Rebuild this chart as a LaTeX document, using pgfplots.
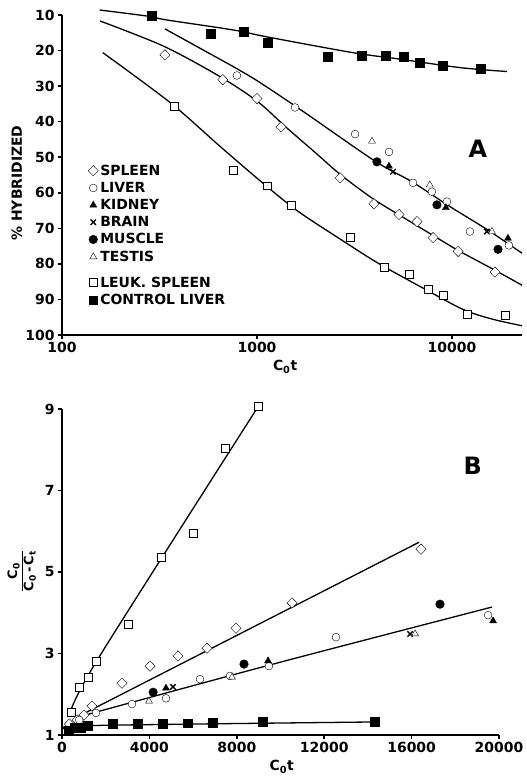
\documentclass[border=0pt]{standalone}
\usepackage{fontspec}
\setmainfont{DejaVu Sans}
\usepackage{pgfplots}
\pgfplotsset{compat=1.18}

\pgfplotsset{
  fig/.style={
    scale only axis,
    axis line style={line width=2bp},
    tick style={line width=1.5bp, black},
    tick align=outside,
    major tick length=4bp,
    minor tick length=0pt,
    clip=false,
    /pgf/number format/assume math mode=true,
    ticklabel style={font=\bfseries\fontsize{14}{14}\selectfont},
    label style={font=\bfseries\fontsize{14}{14}\selectfont},
  },
  ln/.style={black, line width=1.3bp, smooth, no marks, forget plot},
  mk/.style={only marks, black, mark options={line width=1.4bp}},
  mspleen/.style={mk, mark=diamond*, mark size=5.2bp, mark options={fill=white, xscale=1.3}},
  mliver/.style={mk, mark=*, mark size=3.9bp, mark options={fill=white}},
  mkidney/.style={mk, mark=triangle*, mark size=4bp, mark options={fill=black}},
  mbrain/.style={mk, mark=x, mark size=3.8bp},
  mmuscle/.style={mk, mark=*, mark size=4.3bp, mark options={fill=black}},
  mtestis/.style={mk, mark=triangle*, mark size=4bp, mark options={fill=white}},
  mleuk/.style={mk, mark=square*, mark size=3.9bp, mark options={fill=white}},
  mctrl/.style={mk, mark=square*, mark size=4.4bp, mark options={fill=black}},
}

\begin{document}
\begin{tikzpicture}
\path[use as bounding box] (0,0) rectangle (527bp,777bp);

% ---- panel A: % hybridized vs Cot (log)
\begin{axis}[fig,
    at={(62bp,442bp)}, anchor=south west,
    width=460bp, height=320bp,
    xmode=log, xmin=100, xmax=22860,
    ymin=10, ymax=100, y dir=reverse,
    axis x line*=bottom, axis y line*=left,
    xtick={100,1000,10000}, xticklabels={100,1000,10000},
    ytick={10,20,...,100},
    xlabel={C\textsubscript{0}t},
    ylabel={\% HYBRIDIZED},
    xlabel style={at={(axis description cs:0.485,-0.1)}, anchor=center},
    ylabel style={at={(axis description cs:-0.098,0.475)}, anchor=center},
    legend style={at={(axis description cs:0.05,0.545)}, anchor=north west,
      draw=none, fill=none, font=\bfseries\fontsize{14}{14}\selectfont,
      row sep=1.5bp},
    legend cell align=left,
]
% curves
\addplot[ln] coordinates {(156,8.6) (273,10.3) (345,11.4) (753,14.2) (1137,16.2)
  (3105,20.6) (5224,22.3) (11000,24.8) (19140,25.9)};
\addplot[ln] coordinates {(337,13.9) (574,20.9) (800,25.3) (1036,29.0) (1722,37.1) (4030,51.1)
  (6232,56.9) (9772,63.9) (15100,70.3) (22860,77.0)};
\addplot[ln] coordinates {(157,11.7) (330,18.7) (631,27.0) (1000,34.2) (1426,41.8)
  (2000,48.8) (2667,54.8) (3890,61.5) (5346,66.2) (7998,72.0) (10740,76.2) (16640,81.8) (22860,86.0)};
\addplot[ln] coordinates {(162,20.6) (358,34.6) (645,46.9) (1036,56.6) (1603,65.0)
  (2667,73.0) (4178,79.8) (7100,86.8) (11380,92.8) (16000,95.5) (22860,97.4)};

% data
\addplot[mspleen] coordinates {(337,21.2) (668,28.2) (1000,33.5) (1327,41.5) (2667,55.8)
  (3980,63.1) (5350,66.1) (6620,68.1) (8000,72.6) (10750,76.5) (16600,82.3)};
\addlegendentry{SPLEEN}
\addplot[mliver] coordinates {(789,27.0) (1567,36.0) (3184,43.5) (4753,48.5) (6310,57.2)
  (7890,59.7) (9420,62.5) (12360,70.9) (19590,74.8)};
\addlegendentry{LIVER}
\addplot[mkidney] coordinates {(4750,52.5) (9300,64.2) (19360,72.8)};
\addlegendentry{KIDNEY}
\addplot[mbrain] coordinates {(4980,54.1) (15100,70.9)};
\addlegendentry{BRAIN}
\addplot[mmuscle] coordinates {(4121,51.3) (8370,63.4) (17220,75.9)};
\addlegendentry{MUSCLE}
\addplot[mtestis] coordinates {(3890,45.5) (7700,57.8) (16030,70.9)};
\addlegendentry{TESTIS}
\addplot[mleuk, legend image post style={yshift=-4bp}] coordinates {(375,35.7) (753,53.6)
  (1125,58.0) (1493,63.6) (2997,72.6) (4478,81.0) (6010,82.9) (7530,87.1) (8990,88.8)
  (11940,94.1) (18700,94.4)};
\addlegendentry{\rule{0pt}{19bp}LEUK. SPLEEN}
\addplot[mctrl] coordinates {(289,10.3) (581,15.3) (857,14.7) (1137,17.8) (2312,21.7)
  (3451,21.5) (4590,21.5) (5680,21.8) (6850,23.5) (8990,24.3) (14100,25.1)};
\addlegendentry{CONTROL LIVER}

\node at (axis description cs:0.904,0.581) {\bfseries\fontsize{24}{24}\selectfont A};
\end{axis}

% ---- panel B: Co/(Co-Ct) vs Cot
\begin{axis}[fig,
    at={(62bp,42bp)}, anchor=south west,
    width=437bp, height=326bp,
    xmin=0, xmax=20000, ymin=1, ymax=9,
    axis x line*=bottom, axis y line*=left,
    xtick={0,4000,8000,12000,16000,20000},
    xticklabels={0,4000,8000,12000,16000,20000},
    scaled x ticks=false,
    ytick={1,3,5,7,9},
    xlabel={C\textsubscript{0}t},
    ylabel={\fontsize{13}{13}\selectfont$\displaystyle\frac{\mbox{\bfseries C\textsubscript{0}}}{\mbox{\bfseries C\textsubscript{0}\,-\,C\textsubscript{t}}}$},
    xlabel style={at={(axis description cs:0.503,-0.098)}, anchor=center},
    ylabel style={at={(axis description cs:-0.092,0.503)}, anchor=center},
]
\addplot[ln] coordinates {(420,1.62) (1740,2.95) (8930,9.02)};
\addplot[ln] coordinates {(690,1.44) (16340,5.73)};
\addplot[ln] coordinates {(800,1.45) (9520,2.72) (19680,4.14)};
\addplot[ln] coordinates {(250,1.14) (1200,1.23) (14300,1.32)};

\addplot[mleuk] coordinates {(412,1.56) (778,2.18) (1190,2.42) (1556,2.81) (3020,3.72)
  (4530,5.36) (5990,5.95) (7460,8.03) (8970,9.06)};
\addplot[mspleen] coordinates {(337,1.27) (690,1.37) (1007,1.49) (1373,1.71) (2746,2.27)
  (4028,2.69) (5309,2.94) (6637,3.13) (7964,3.62) (10530,4.24) (16430,5.56)};
\addplot[mliver] coordinates {(789,1.37) (1556,1.54) (3204,1.76) (4760,1.90) (6316,2.37)
  (7690,2.45) (9470,2.69) (12540,3.40) (19500,3.94)};
\addplot[mkidney] coordinates {(4760,2.15) (9430,2.82) (19730,3.80)};
\addplot[mbrain] coordinates {(5080,2.18) (15930,3.48)};
\addplot[mmuscle] coordinates {(4170,2.05) (8330,2.74) (17300,4.21)};
\addplot[mtestis] coordinates {(3980,1.83) (7780,2.42) (16160,3.48)};
\addplot[mctrl] coordinates {(290,1.12) (580,1.18) (860,1.17) (1190,1.22) (2330,1.28)
  (3480,1.28) (4620,1.28) (5770,1.29) (6900,1.31) (9200,1.32) (14325,1.33)};

\node at (axis description cs:0.94,0.825) {\bfseries\fontsize{24}{24}\selectfont B};
\end{axis}
\end{tikzpicture}
\end{document}
